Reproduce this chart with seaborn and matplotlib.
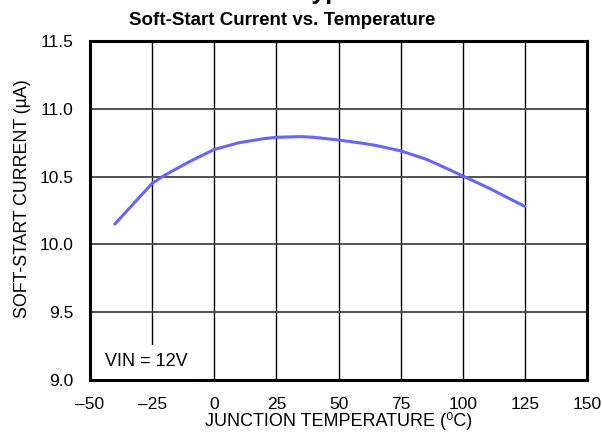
import matplotlib
matplotlib.use("Agg")
import matplotlib.pyplot as plt
import seaborn as sns
import pandas as pd

# values
temp = [-40, -35, -30, -25, -20, -10, 0, 10, 20, 25, 35, 40, 50, 60, 65, 75, 85, 90, 100, 110, 125]
current = [10.15, 10.25, 10.35, 10.45, 10.51, 10.61, 10.70, 10.75, 10.78, 10.79, 10.795, 10.79,
           10.77, 10.745, 10.73, 10.69, 10.63, 10.59, 10.505, 10.42, 10.28]
xticks = [-50, -25, 0, 25, 50, 75, 100, 125, 150]
yticks = [9.0, 9.5, 10.0, 10.5, 11.0, 11.5]

sns.set_style("white")
plt.rcParams['font.family'] = ['Liberation Sans', 'DejaVu Sans']
plt.rcParams['text.color'] = 'black'
plt.rcParams['axes.labelcolor'] = 'black'
plt.rcParams['xtick.color'] = 'black'
plt.rcParams['ytick.color'] = 'black'

df = pd.DataFrame({"temp": temp, "current": current})

fig = plt.figure(figsize=(6.02, 4.42), dpi=100)
ax = fig.add_axes([90 / 602, 1 - 380 / 442, 497 / 602, 339 / 442])

sns.lineplot(data=df, x="temp", y="current", color="#6666ff", linewidth=2.2, ax=ax, zorder=3)

ax.set_xlim(-50, 150)
ax.set_ylim(9.0, 11.5)
ax.set_xticks(xticks)
ax.set_yticks(yticks)
ax.set_xticklabels([str(t).replace("-", "\u2013") for t in xticks], fontsize=12.5)
ax.set_yticklabels([f"{v:.1f}" for v in yticks], fontsize=12.5)
ax.xaxis.grid(True, color="black", linewidth=1)
ax.yaxis.grid(True, color="#444444", linewidth=1.3)
ax.tick_params(axis="x", length=0, pad=12)
ax.tick_params(axis="y", length=0, pad=12)
for s in ax.spines.values():
    s.set_color("black")
    s.set_linewidth(2.2)

ax.set_xlabel("JUNCTION TEMPERATURE (\u2070C)", fontsize=13, labelpad=0)
ax.set_ylabel("SOFT-START CURRENT (\u00b5A)", fontsize=12.8)
ax.yaxis.set_label_coords(-0.119, 0.535)

ax.text(-44, 9.10, "VIN = 12V", fontsize=13, ha="left", va="baseline",
        bbox=dict(facecolor="white", edgecolor="none", pad=6), zorder=4)

fig.text(282 / 602, 1 - 25 / 442, "Soft-Start Current vs. Temperature",
         fontsize=13.5, fontweight="bold", ha="center", va="baseline")
fig.text(298 / 602, 1 + 1.5 / 442, "Typical Performance Characteristics",
         fontsize=18, fontweight="bold", ha="left", va="baseline")

fig.savefig("out.png", dpi=100)
